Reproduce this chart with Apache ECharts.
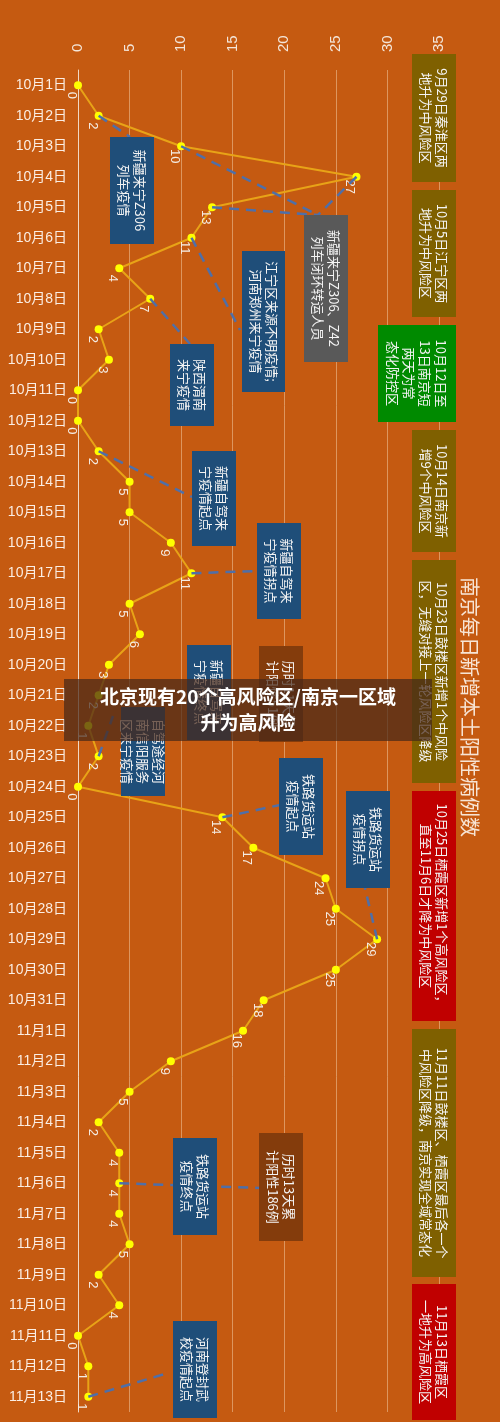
<!DOCTYPE html>
<html><head><meta charset="utf-8">
<script src="https://cdn.jsdelivr.net/npm/echarts@6/dist/echarts.min.js"></script>
<style>html,body{margin:0;padding:0;background:#c55a11}#c{width:500px;height:1422px}</style>
</head><body><div id="c"></div>
<script>
const dates = ['10月1日','10月2日','10月3日','10月4日','10月5日','10月6日','10月7日','10月8日','10月9日','10月10日','10月11日','10月12日','10月13日','10月14日','10月15日','10月16日','10月17日','10月18日','10月19日','10月20日','10月21日','10月22日','10月23日','10月24日','10月25日','10月26日','10月27日','10月28日','10月29日','10月30日','10月31日','11月1日','11月2日','11月3日','11月4日','11月5日','11月6日','11月7日','11月8日','11月9日','11月10日','11月11日','11月12日','11月13日'];
const cases = [0,2,10,27,13,11,4,7,2,3,0,0,2,5,5,9,11,5,6,3,2,1,2,0,14,17,24,25,29,25,18,16,9,5,2,4,4,4,5,2,4,0,1,1];
const xTicks = [0,5,10,15,20,25,30,35];
const title = '南京每日新增本土阳性病例数';
const banner = '北京现有20个高风险区/南京一区域\n升为高风险';
const notes = [
 {t:'9月29日秦淮区两\n地升为中风险区', c:'#7f6000'},
 {t:'10月5日江宁区两\n地升为中风险区', c:'#7f6000'},
 {t:'10月12日至\n13日南京短\n两天为常\n态化防控区', c:'#008a00'},
 {t:'10月14日南京新\n增9个中风险区', c:'#7f6000'},
 {t:'10月23日鼓楼区新增1个中风险\n区，无缝对接上一轮风险区降级', c:'#7f6000'},
 {t:'10月25日栖霞区新增1个高风险区，\n直至11月6日才降为中风险区', c:'#c00000'},
 {t:'11月11日鼓楼区、栖霞区最后各一个\n中风险区降级，南京实现全域常态化', c:'#7f6000'},
 {t:'11月13日栖霞区\n一地升为高风险区', c:'#c00000'}
];
const noteBoxes = [[412,54,44,128],[412,190,44,127],[378,325,78,97],[412,430,44,122],[412,560,44,223],[412,791,44,230],[412,1029,44,248],[412,1284,44,136]];
const events = [
 {t:'新疆来宁Z306\n列车疫情', c:'#1f4e79', box:[110,137,44,107], from:[1], to:[130,137]},
 {t:'新疆来宁Z306、Z42\n列车闭环转运人员', c:'#595959', box:[304,215,44,147], from:[2,3,4], to:[318,215]},
 {t:'江宁区来源不明疫情;\n河南郑州来宁疫情', c:'#1f4e79', box:[242,251,43,141], from:[5], to:[240,330]},
 {t:'陕西渭南\n来宁疫情', c:'#1f4e79', box:[170,344,44,82], from:[7], to:[190,344]},
 {t:'新疆自驾来\n宁疫情起点', c:'#1f4e79', box:[192,451,44,95], from:[12], to:[192,497]},
 {t:'新疆自驾来\n宁疫情拐点', c:'#1f4e79', box:[257,523,44,96], from:[16], to:[257,571]},
 {t:'新疆自驾来\n宁疫情终点', c:'#1f4e79', box:[187,645,44,95], from:[], to:null},
 {t:'历时11天累\n计阳性51例', c:'#843c0c', box:[259,646,44,96], from:[], to:null},
 {t:'自驾途经河\n南信阳服务\n区来宁疫情', c:'#1f4e79', box:[121,707,44,89], from:[22], to:[113,716]},
 {t:'铁路货运站\n疫情起点', c:'#1f4e79', box:[279,758,44,97], from:[24], to:[280,805]},
 {t:'铁路货运站\n疫情拐点', c:'#1f4e79', box:[346,791,44,97], from:[28], to:[365,888]},
 {t:'铁路货运站\n疫情终点', c:'#1f4e79', box:[173,1138,44,97], from:[36], to:[260,1188]},
 {t:'历时13天累\n计阳性186例', c:'#843c0c', box:[259,1133,44,108], from:[], to:null},
 {t:'河南登封武\n校疫情起点', c:'#1f4e79', box:[173,1321,44,97], from:[43], to:[168,1373]}
];
const chart = echarts.init(document.getElementById('c'));
const font = 'Noto Sans CJK SC';
const numFont = 'Liberation Sans';
chart.setOption({
 backgroundColor:'#c55a11',
 animation:false,
 textStyle:{fontFamily:font},
 grid:{left:78,right:61,top:70,bottom:10},
 xAxis:{type:'value',position:'top',min:0,max:35,interval:5,
   axisLine:{show:false},axisTick:{show:false},
   axisLabel:{rotate:-90,color:'#f4e6da',fontSize:15,fontFamily:numFont,margin:18,formatter:v=>xTicks.includes(v)?String(v):''},
   splitLine:{lineStyle:{color:'rgba(240,200,160,0.55)',width:1}}},
 yAxis:{type:'category',inverse:true,data:dates,boundaryGap:true,
   axisLine:{show:true,lineStyle:{color:'#f0d8c4',width:1}},axisTick:{show:false},
   axisLabel:{color:'#fbeee4',fontSize:14,fontFamily:'Liberation Sans, Noto Sans CJK SC',margin:11}},
 series:[{type:'line',data:cases.map((v,i)=>[v,i]),
   lineStyle:{color:'#e8a317',width:2},
   itemStyle:{color:'#ffff00'},symbol:'circle',symbolSize:8,
   label:{show:true,position:'bottom',rotate:-90,color:'#f4ece4',fontSize:13,fontFamily:numFont,distance:6,formatter:p=>String(p.value[0])},
   z:3}]
});
const g = [];
const rot = -Math.PI/2;
events.forEach(e=>{
  e.from.forEach(i=>{
    const p = chart.convertToPixel({gridIndex:0},[cases[i],i]);
    g.push({type:'line',z:5,shape:{x1:p[0],y1:p[1],x2:e.to[0],y2:e.to[1]},style:{stroke:'#4f6fa8',lineWidth:2.5,lineDash:[10,7]}});
  });
});
function box(b,c,t,fs){
  g.push({type:'rect',z:10,shape:{x:b[0],y:b[1],width:b[2],height:b[3]},style:{fill:c}});
  g.push({type:'text',z:11,x:b[0]+b[2]/2,y:b[1]+b[3]/2,rotation:rot,
    style:{text:t,fill:'#f4f4f4',fontSize:fs,fontFamily:font,align:'center',verticalAlign:'middle',lineHeight:fs+3}});
}
notes.forEach((n,i)=>box(noteBoxes[i],n.c,n.t,13));
events.forEach(e=>box(e.box,e.c,e.t,13));
g.push({type:'text',z:11,x:470,y:707,rotation:rot,style:{text:title,fill:'#f7e4d4',fontSize:20,fontFamily:font,align:'center',verticalAlign:'middle'}});
g.push({type:'rect',z:20,shape:{x:64,y:679,width:368,height:62},style:{fill:'rgba(70,40,25,0.72)'}});
g.push({type:'text',z:21,x:248,y:710,style:{text:banner,fill:'#ffffff',fontSize:19,fontWeight:'bold',fontFamily:font,align:'center',verticalAlign:'middle',lineHeight:26}});
chart.setOption({graphic:g});
</script></body></html>
